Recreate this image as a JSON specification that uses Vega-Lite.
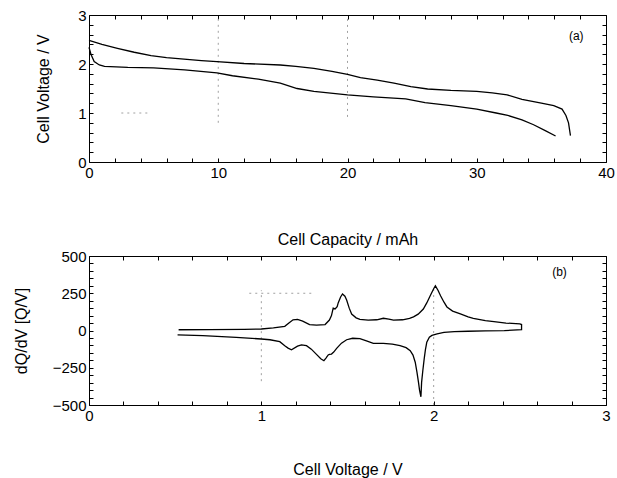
{
  "$schema": "https://vega.github.io/schema/vega-lite/v6.json",
  "padding": {"left": 12, "top": 7, "right": 2, "bottom": 2},
  "background": "white",
  "config": {
    "view": {"stroke": "black", "strokeWidth": 1},
    "font": "Liberation Sans",
    "axis": {
      "domain": false, "grid": false, "ticks": true, "tickColor": "black", "tickSize": -4,
      "labelFont": "Liberation Sans", "labelFontSize": 15, "labelColor": "black", "labelPadding": 7,
      "labelOverlap": false, "labelFlush": false, "labelBound": false,
      "titleFont": "Liberation Sans", "titleFontSize": 16, "titleFontWeight": "normal", "titleColor": "black"
    }
  },
  "spacing": 0,
  "vconcat": [
    {
      "width": 517, "height": 147,
      "layer": [
        {
          "data": {"values": [
            {"x": 10, "y": 0.8, "x2": 10, "y2": 3},
            {"x": 20, "y": 0.92, "x2": 20, "y2": 3},
            {"x": 2.5, "y": 1, "x2": 4.8, "y2": 1}
          ]},
          "mark": {"type": "rule", "color": "#a0a0a0", "strokeDash": [2, 4], "strokeWidth": 1},
          "encoding": {
            "x": {"field": "x", "type": "quantitative", "scale": {"domain": [0, 40], "nice": false},
              "axis": {"orient": "bottom", "title": "Cell Capacity / mAh", "titlePadding": 51,
                "values": [0,2,4,6,8,10,12,14,16,18,20,22,24,26,28,30,32,34,36,38,40],
                "labelExpr": "datum.value % 10 == 0 ? format(datum.value, 'd') : ''"}},
            "x2": {"field": "x2"},
            "y": {"field": "y", "type": "quantitative", "scale": {"domain": [0, 3], "nice": false},
              "axis": {"orient": "left", "title": "Cell Voltage / V", "titlePadding": 26,
                "values": [0,0.2,0.4,0.6,0.8,1,1.2,1.4,1.6,1.8,2,2.2,2.4,2.6,2.8,3],
                "labelExpr": "abs(datum.value - round(datum.value)) < 0.01 ? format(datum.value, 'd') : ''"}},
            "y2": {"field": "y2"}
          }
        },
        {
          "data": {"values": [
            {"s": "u", "cap": 0, "v": 2.48}, {"s": "u", "cap": 1, "v": 2.4}, {"s": "u", "cap": 2.2, "v": 2.32},
            {"s": "u", "cap": 3.5, "v": 2.24}, {"s": "u", "cap": 4.8, "v": 2.17}, {"s": "u", "cap": 6, "v": 2.13},
            {"s": "u", "cap": 7.35, "v": 2.1}, {"s": "u", "cap": 8.7, "v": 2.07}, {"s": "u", "cap": 9.9, "v": 2.05},
            {"s": "u", "cap": 12, "v": 2.01}, {"s": "u", "cap": 14.8, "v": 1.98}, {"s": "u", "cap": 16, "v": 1.95},
            {"s": "u", "cap": 17.4, "v": 1.91}, {"s": "u", "cap": 18.8, "v": 1.85}, {"s": "u", "cap": 20, "v": 1.79},
            {"s": "u", "cap": 21, "v": 1.72}, {"s": "u", "cap": 22.3, "v": 1.67}, {"s": "u", "cap": 23.6, "v": 1.61},
            {"s": "u", "cap": 24.9, "v": 1.54}, {"s": "u", "cap": 26.2, "v": 1.49}, {"s": "u", "cap": 28, "v": 1.46},
            {"s": "u", "cap": 30, "v": 1.44}, {"s": "u", "cap": 31.2, "v": 1.41}, {"s": "u", "cap": 32.35, "v": 1.37},
            {"s": "u", "cap": 33.5, "v": 1.28}, {"s": "u", "cap": 35, "v": 1.2}, {"s": "u", "cap": 35.96, "v": 1.15},
            {"s": "u", "cap": 36.6, "v": 1.08}, {"s": "u", "cap": 36.9, "v": 0.95}, {"s": "u", "cap": 37.1, "v": 0.8},
            {"s": "u", "cap": 37.25, "v": 0.54},
            {"s": "l", "cap": 0, "v": 2.34}, {"s": "l", "cap": 0.15, "v": 2.2}, {"s": "l", "cap": 0.4, "v": 2.05},
            {"s": "l", "cap": 0.8, "v": 1.98}, {"s": "l", "cap": 1.2, "v": 1.95}, {"s": "l", "cap": 3, "v": 1.93},
            {"s": "l", "cap": 5, "v": 1.92}, {"s": "l", "cap": 7.4, "v": 1.88}, {"s": "l", "cap": 9.9, "v": 1.82},
            {"s": "l", "cap": 11.1, "v": 1.76}, {"s": "l", "cap": 13.1, "v": 1.69}, {"s": "l", "cap": 14.8, "v": 1.61},
            {"s": "l", "cap": 16.1, "v": 1.5}, {"s": "l", "cap": 17.4, "v": 1.44}, {"s": "l", "cap": 20, "v": 1.37},
            {"s": "l", "cap": 22, "v": 1.33}, {"s": "l", "cap": 24.5, "v": 1.29}, {"s": "l", "cap": 26, "v": 1.21},
            {"s": "l", "cap": 28, "v": 1.15}, {"s": "l", "cap": 30, "v": 1.08}, {"s": "l", "cap": 31.5, "v": 1.0},
            {"s": "l", "cap": 32.4, "v": 0.95}, {"s": "l", "cap": 33.5, "v": 0.86}, {"s": "l", "cap": 34.4, "v": 0.76},
            {"s": "l", "cap": 35.3, "v": 0.64}, {"s": "l", "cap": 36.1, "v": 0.53}
          ]},
          "mark": {"type": "line", "color": "black", "strokeWidth": 1.3},
          "encoding": {
            "x": {"field": "cap", "type": "quantitative",
              "axis": {"orient": "top", "title": null, "labels": false,
                "values": [0,2,4,6,8,10,12,14,16,18,20,22,24,26,28,30,32,34,36,38,40]}},
            "y": {"field": "v", "type": "quantitative",
              "axis": {"orient": "right", "title": null, "labels": false,
                "values": [0,0.2,0.4,0.6,0.8,1,1.2,1.4,1.6,1.8,2,2.2,2.4,2.6,2.8,3]}},
            "detail": {"field": "s"}
          }
        },
        {
          "data": {"values": [{"x": 37.7, "y": 2.57, "t": "(a)"}]},
          "mark": {"type": "text", "fontSize": 12, "color": "black", "font": "Liberation Sans"},
          "encoding": {
            "x": {"field": "x", "type": "quantitative", "axis": null},
            "y": {"field": "y", "type": "quantitative", "axis": null},
            "text": {"field": "t"}
          }
        }
      ],
      "resolve": {"axis": {"x": "independent", "y": "independent"}}
    },
    {
      "width": 517, "height": 149,
      "layer": [
        {
          "data": {"values": [
            {"x": 1, "y": -340, "x2": 1, "y2": 270},
            {"x": 2, "y": -500, "x2": 2, "y2": 300},
            {"x": 0.93, "y": 250, "x2": 1.3, "y2": 250}
          ]},
          "mark": {"type": "rule", "color": "#a0a0a0", "strokeDash": [2, 4], "strokeWidth": 1},
          "encoding": {
            "x": {"field": "x", "type": "quantitative", "scale": {"domain": [0, 3], "nice": false},
              "axis": {"orient": "bottom", "title": "Cell Voltage / V", "titlePadding": 38,
                "values": [0,0.2,0.4,0.6,0.8,1,1.2,1.4,1.6,1.8,2,2.2,2.4,2.6,2.8,3],
                "labelExpr": "abs(datum.value - round(datum.value)) < 0.01 ? format(datum.value, 'd') : ''"}},
            "x2": {"field": "x2"},
            "y": {"field": "y", "type": "quantitative", "scale": {"domain": [-500, 500], "nice": false},
              "axis": {"orient": "left", "title": "dQ/dV [Q/V]", "titlePadding": 23,
                "values": [-500,-450,-400,-350,-300,-250,-200,-150,-100,-50,0,50,100,150,200,250,300,350,400,450,500],
                "labelExpr": "datum.value % 250 == 0 ? format(datum.value, 'd') : ''"}},
            "y2": {"field": "y2"}
          }
        },
        {
          "data": {"values": [
            {"o": 1, "v": 0.52, "q": 5}, {"o": 2, "v": 0.7, "q": 6}, {"o": 3, "v": 0.9, "q": 8}, {"o": 4, "v": 1.0, "q": 10},
            {"o": 5, "v": 1.07, "q": 18}, {"o": 6, "v": 1.136, "q": 28}, {"o": 7, "v": 1.16, "q": 50}, {"o": 8, "v": 1.184, "q": 72},
            {"o": 9, "v": 1.21, "q": 75}, {"o": 10, "v": 1.24, "q": 63}, {"o": 11, "v": 1.28, "q": 40}, {"o": 12, "v": 1.32, "q": 36},
            {"o": 13, "v": 1.37, "q": 40}, {"o": 14, "v": 1.395, "q": 70}, {"o": 15, "v": 1.407, "q": 100}, {"o": 16, "v": 1.417, "q": 150},
            {"o": 17, "v": 1.428, "q": 145}, {"o": 18, "v": 1.44, "q": 160}, {"o": 19, "v": 1.446, "q": 185}, {"o": 20, "v": 1.46, "q": 225},
            {"o": 21, "v": 1.471, "q": 245}, {"o": 22, "v": 1.485, "q": 230}, {"o": 23, "v": 1.495, "q": 205}, {"o": 24, "v": 1.51, "q": 150},
            {"o": 25, "v": 1.524, "q": 110}, {"o": 26, "v": 1.55, "q": 85}, {"o": 27, "v": 1.572, "q": 75}, {"o": 28, "v": 1.62, "q": 70},
            {"o": 29, "v": 1.67, "q": 72}, {"o": 30, "v": 1.708, "q": 82}, {"o": 31, "v": 1.74, "q": 76}, {"o": 32, "v": 1.767, "q": 70},
            {"o": 33, "v": 1.82, "q": 72}, {"o": 34, "v": 1.86, "q": 82}, {"o": 35, "v": 1.883, "q": 92}, {"o": 36, "v": 1.91, "q": 110},
            {"o": 37, "v": 1.94, "q": 144}, {"o": 38, "v": 1.96, "q": 185}, {"o": 39, "v": 1.98, "q": 233}, {"o": 40, "v": 2.0, "q": 280},
            {"o": 41, "v": 2.01, "q": 300}, {"o": 42, "v": 2.025, "q": 270}, {"o": 43, "v": 2.04, "q": 233}, {"o": 44, "v": 2.06, "q": 190},
            {"o": 45, "v": 2.077, "q": 158}, {"o": 46, "v": 2.11, "q": 130}, {"o": 47, "v": 2.155, "q": 111}, {"o": 48, "v": 2.2, "q": 92},
            {"o": 49, "v": 2.23, "q": 82}, {"o": 50, "v": 2.3, "q": 66}, {"o": 51, "v": 2.35, "q": 59}, {"o": 52, "v": 2.42, "q": 50},
            {"o": 53, "v": 2.5, "q": 44}, {"o": 54, "v": 2.51, "q": 40}, {"o": 55, "v": 2.51, "q": 5}, {"o": 56, "v": 2.41, "q": -1},
            {"o": 57, "v": 2.3, "q": -3}, {"o": 58, "v": 2.2, "q": -5}, {"o": 59, "v": 2.12, "q": -8}, {"o": 60, "v": 2.06, "q": -13},
            {"o": 61, "v": 2.02, "q": -23}, {"o": 62, "v": 1.99, "q": -33}, {"o": 63, "v": 1.975, "q": -45}, {"o": 64, "v": 1.96, "q": -79},
            {"o": 65, "v": 1.952, "q": -130}, {"o": 66, "v": 1.945, "q": -191}, {"o": 67, "v": 1.937, "q": -270}, {"o": 68, "v": 1.93, "q": -348},
            {"o": 69, "v": 1.926, "q": -445}, {"o": 70, "v": 1.918, "q": -400}, {"o": 71, "v": 1.912, "q": -348}, {"o": 72, "v": 1.903, "q": -280},
            {"o": 73, "v": 1.893, "q": -213}, {"o": 74, "v": 1.88, "q": -165}, {"o": 75, "v": 1.864, "q": -135}, {"o": 76, "v": 1.84, "q": -115},
            {"o": 77, "v": 1.805, "q": -102}, {"o": 78, "v": 1.76, "q": -92}, {"o": 79, "v": 1.708, "q": -86}, {"o": 80, "v": 1.65, "q": -86},
            {"o": 81, "v": 1.61, "q": -70}, {"o": 82, "v": 1.572, "q": -55}, {"o": 83, "v": 1.53, "q": -52}, {"o": 84, "v": 1.495, "q": -62},
            {"o": 85, "v": 1.465, "q": -85}, {"o": 86, "v": 1.437, "q": -120}, {"o": 87, "v": 1.42, "q": -145}, {"o": 88, "v": 1.407, "q": -158},
            {"o": 89, "v": 1.395, "q": -160}, {"o": 90, "v": 1.388, "q": -164}, {"o": 91, "v": 1.375, "q": -185}, {"o": 92, "v": 1.363, "q": -203},
            {"o": 93, "v": 1.345, "q": -190}, {"o": 94, "v": 1.32, "q": -160}, {"o": 95, "v": 1.29, "q": -125}, {"o": 96, "v": 1.262, "q": -102},
            {"o": 97, "v": 1.233, "q": -96}, {"o": 98, "v": 1.21, "q": -105}, {"o": 99, "v": 1.175, "q": -129}, {"o": 100, "v": 1.155, "q": -118},
            {"o": 101, "v": 1.136, "q": -102}, {"o": 102, "v": 1.107, "q": -75}, {"o": 103, "v": 1.05, "q": -62}, {"o": 104, "v": 1.0, "q": -57},
            {"o": 105, "v": 0.854, "q": -46}, {"o": 106, "v": 0.66, "q": -35}, {"o": 107, "v": 0.514, "q": -30}
          ]},
          "mark": {"type": "line", "color": "black", "strokeWidth": 1.3},
          "encoding": {
            "x": {"field": "v", "type": "quantitative",
              "axis": {"orient": "top", "title": null, "labels": false,
                "values": [0,0.2,0.4,0.6,0.8,1,1.2,1.4,1.6,1.8,2,2.2,2.4,2.6,2.8,3]}},
            "y": {"field": "q", "type": "quantitative",
              "axis": {"orient": "right", "title": null, "labels": false,
                "values": [-500,-450,-400,-350,-300,-250,-200,-150,-100,-50,0,50,100,150,200,250,300,350,400,450,500]}},
            "order": {"field": "o", "type": "quantitative"}
          }
        },
        {
          "data": {"values": [{"x": 2.73, "y": 393, "t": "(b)"}]},
          "mark": {"type": "text", "fontSize": 12, "color": "black", "font": "Liberation Sans"},
          "encoding": {
            "x": {"field": "x", "type": "quantitative", "axis": null},
            "y": {"field": "y", "type": "quantitative", "axis": null},
            "text": {"field": "t"}
          }
        }
      ],
      "resolve": {"axis": {"x": "independent", "y": "independent"}}
    }
  ]
}
